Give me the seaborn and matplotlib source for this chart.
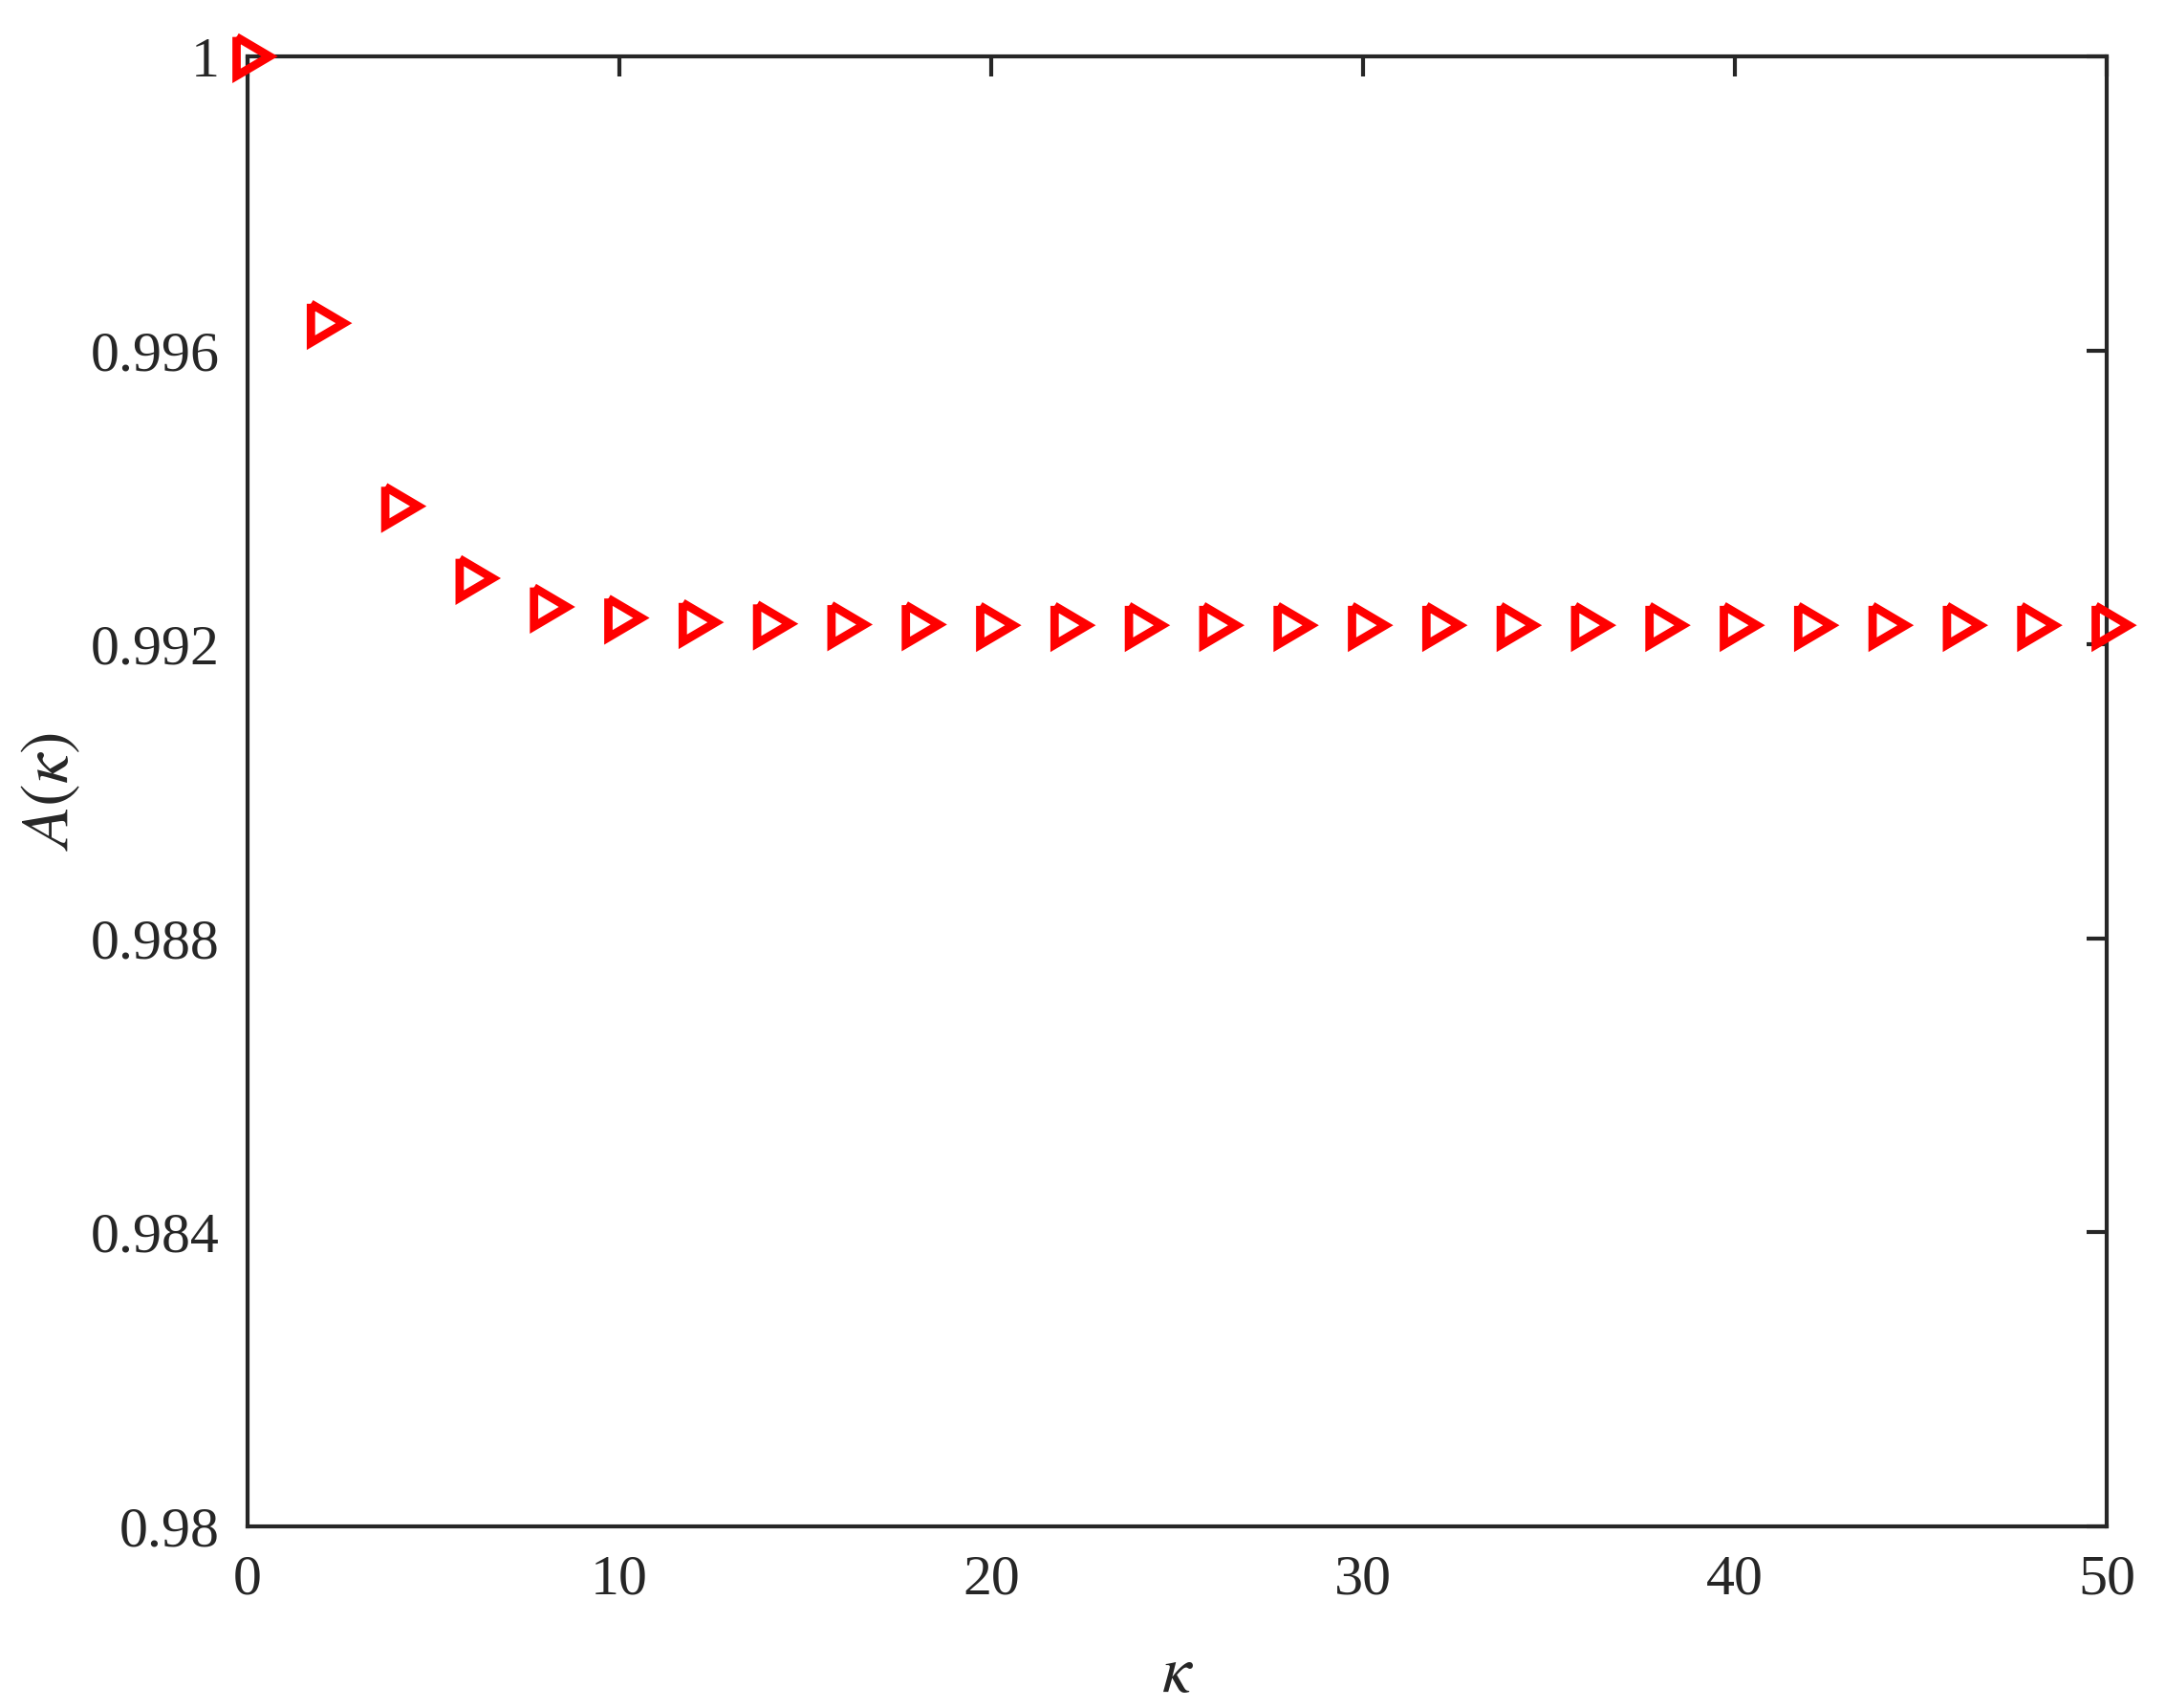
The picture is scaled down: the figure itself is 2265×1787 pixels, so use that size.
import numpy as np
import pandas as pd
import matplotlib
matplotlib.use("Agg")
import matplotlib.pyplot as plt
import seaborn as sns

kappa = [0, 2, 4, 6, 8, 10, 12, 14, 16, 18, 20, 22, 24, 26, 28, 30,
         32, 34, 36, 38, 40, 42, 44, 46, 48, 50]
a_kappa = [1.0, 0.99637, 0.99388, 0.99290, 0.99251, 0.99236, 0.99230, 0.99228,
           0.99227, 0.99227, 0.99226, 0.99226, 0.99226, 0.99226, 0.99226, 0.99226,
           0.99226, 0.99226, 0.99226, 0.99226, 0.99226, 0.99226, 0.99226, 0.99226,
           0.99226, 0.99226]
x_ticks = [0, 10, 20, 30, 40, 50]
y_ticks = [0.98, 0.984, 0.988, 0.992, 0.996, 1.0]
y_tick_labels = ['0.98', '0.984', '0.988', '0.992', '0.996', '1']

df = pd.DataFrame({'kappa': kappa, 'A': a_kappa})

sns.set_theme(style='white')
plt.rcParams['font.family'] = ['Liberation Serif', 'DejaVu Serif']
plt.rcParams['mathtext.fontset'] = 'stix'

fig = plt.figure(figsize=(2265 / 300, 1787 / 300), dpi=300)
ax = fig.add_axes([0.11435, 0.10632, 0.97307 - 0.11435, 0.96698 - 0.10632])

# right-pointing triangle centred on its centroid (MATLAB style '>')
tri = [(-11.53, 20.4), (23.07, 0.0), (-11.53, -20.4), (-11.53, 20.4)]
sns.scatterplot(data=df, x='kappa', y='A', marker=tri, s=122,
                facecolor='none', edgecolor='#ff0000', linewidth=2.1,
                joinstyle='miter', clip_on=False, zorder=5, ax=ax, legend=False)

ax.set_xlim(0, 50)
ax.set_ylim(0.98, 1.0)
ax.set_xticks(x_ticks)
ax.set_xticklabels([str(t) for t in x_ticks])
ax.set_yticks(y_ticks)
ax.set_yticklabels(y_tick_labels)

for side in ['top', 'right', 'bottom', 'left']:
    ax.spines[side].set_visible(True)
    ax.spines[side].set_color('#262626')
    ax.spines[side].set_linewidth(1.0)
ax.tick_params(direction='in', length=5, width=1.0, colors='#262626',
               labelsize=14.4, top=True, right=True, pad=7)

ax.set_xlabel(r'$\kappa$', fontsize=16.5, color='#262626', labelpad=10)
ax.set_ylabel(r'$A(\kappa)$', fontsize=17, color='#262626', labelpad=2)

fig.savefig('out.png', dpi=300)
